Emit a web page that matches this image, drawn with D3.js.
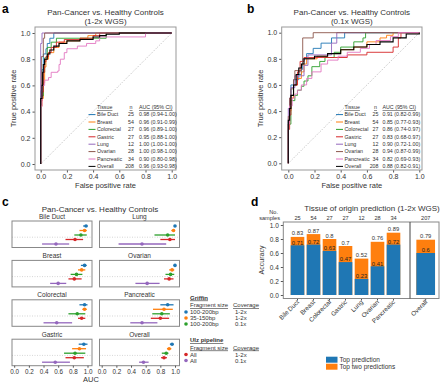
<!DOCTYPE html>
<html>
<head>
<meta charset="utf-8">
<script src="https://cdn.jsdelivr.net/npm/d3@7"></script>
<style>
  body { margin: 0; background: #fff; }
  text { font-family: "Liberation Sans", Arial, sans-serif; fill: #333; }
</style>
</head>
<body>
<div id="fig"></div>
<script>
// ---- data ----
const tissues = ["Bile Duct", "Breast", "Colorectal", "Gastric", "Lung", "Ovarian", "Pancreatic", "Overall"];
const tissueColors = ["#1f77b4", "#ff7f0e", "#2ca02c", "#d62728", "#9467bd", "#8c564b", "#e377c2", "#000000"];
const nRoc = [25, 54, 27, 27, 12, 28, 34, 208];
const aucA = ["0.98 (0.94-1.00)", "0.96 (0.91-0.99)", "0.96 (0.89-1.00)", "0.95 (0.88-1.00)",
              "1.00 (1.00-1.00)", "1.00 (0.98-1.00)", "0.90 (0.80-0.98)", "0.96 (0.93-0.98)"];
const aucB = ["0.91 (0.82-0.99)", "0.85 (0.77-0.93)", "0.86 (0.74-0.97)", "0.83 (0.68-0.97)",
              "0.90 (0.72-1.00)", "0.94 (0.87-0.99)", "0.82 (0.69-0.93)", "0.88 (0.82-0.91)"];

// ROC points [fpr, tpr], tpr jumps to the value at that fpr (order = tissues)
const rocA = [
  [[0,0],[0,0.56],[0.01,0.72],[0.02,0.84],[0.04,0.88],[0.05,0.92],[0.07,0.96],[0.1,1],[1,1]],
  [[0,0],[0,0.44],[0.01,0.5],[0.02,0.62],[0.03,0.74],[0.04,0.8],[0.06,0.85],[0.1,0.89],[0.14,0.93],[0.2,0.94],[0.3,0.96],[0.36,0.98],[0.42,1],[1,1]],
  [[0,0],[0,0.52],[0.02,0.7],[0.03,0.81],[0.05,0.89],[0.08,0.93],[0.12,0.96],[0.5,1],[1,1]],
  [[0,0],[0,0.48],[0.01,0.55],[0.02,0.7],[0.03,0.78],[0.04,0.82],[0.06,0.85],[0.08,0.89],[0.12,0.93],[0.18,0.95],[0.3,0.96],[0.4,0.98],[0.45,1],[1,1]],
  [[0,0],[0,0.92],[0.01,1],[1,1]],
  [[0,0],[0,0.45],[0.005,0.82],[0.02,0.96],[0.03,1],[1,1]],
  [[0,0],[0,0.44],[0.01,0.6],[0.03,0.64],[0.06,0.66],[0.08,0.7],[0.13,0.71],[0.14,0.76],[0.15,0.8],[0.18,0.85],[0.2,0.88],[0.28,0.9],[0.35,0.92],[0.42,0.94],[0.45,0.97],[0.8,1],[1,1]],
  [[0,0],[0,0.5],[0.01,0.6],[0.015,0.7],[0.02,0.76],[0.03,0.8],[0.05,0.84],[0.07,0.87],[0.1,0.9],[0.14,0.92],[0.2,0.94],[0.3,0.95],[0.4,0.97],[0.45,0.98],[0.5,0.99],[0.6,1],[1,1]]
];
const rocB = [
  [[0,0],[0,0.32],[0.01,0.48],[0.02,0.6],[0.04,0.64],[0.08,0.68],[0.1,0.72],[0.11,0.8],[0.14,0.84],[0.19,0.88],[0.25,0.92],[0.33,0.96],[0.43,1],[1,1]],
  [[0,0],[0,0.3],[0.01,0.4],[0.02,0.5],[0.04,0.6],[0.07,0.65],[0.1,0.7],[0.12,0.76],[0.14,0.8],[0.22,0.82],[0.3,0.84],[0.4,0.87],[0.5,0.89],[0.6,0.93],[0.7,0.96],[0.75,0.98],[0.8,1],[1,1]],
  [[0,0],[0,0.3],[0.02,0.48],[0.05,0.52],[0.07,0.56],[0.1,0.59],[0.12,0.63],[0.15,0.67],[0.18,0.74],[0.24,0.78],[0.28,0.81],[0.35,0.85],[0.4,0.89],[0.5,0.93],[0.57,0.96],[0.59,1],[1,1]],
  [[0,0],[0,0.26],[0.01,0.37],[0.02,0.52],[0.04,0.6],[0.07,0.7],[0.09,0.78],[0.12,0.81],[0.45,0.83],[0.6,0.85],[0.8,0.89],[0.84,0.96],[0.86,1],[1,1]],
  [[0,0],[0,0.42],[0.01,0.5],[0.02,0.58],[0.05,0.67],[0.12,0.75],[0.15,0.83],[0.33,0.92],[0.37,1],[1,1]],
  [[0,0],[0,0.36],[0.01,0.5],[0.02,0.57],[0.04,0.64],[0.05,0.71],[0.1,0.75],[0.11,0.96],[0.19,1],[1,1]],
  [[0,0],[0,0.3],[0.01,0.44],[0.03,0.5],[0.05,0.53],[0.07,0.56],[0.1,0.6],[0.14,0.65],[0.18,0.7],[0.25,0.76],[0.3,0.79],[0.38,0.82],[0.45,0.85],[0.55,0.88],[0.62,0.91],[0.67,0.94],[0.78,0.97],[0.84,1],[1,1]],
  [[0,0],[0,0.33],[0.01,0.42],[0.02,0.52],[0.04,0.6],[0.06,0.68],[0.08,0.73],[0.1,0.76],[0.12,0.8],[0.2,0.82],[0.3,0.84],[0.4,0.87],[0.5,0.89],[0.6,0.91],[0.7,0.93],[0.8,0.96],[0.9,0.99],[1,1]]
];

// forest plot (panel c): rows = methods, columns = tissues
const facetOrder = ["Bile Duct", "Lung", "Breast", "Ovarian", "Colorectal", "Pancreatic", "Gastric", "Overall"];
const methodColors = ["#1f77b4", "#ff7f0e", "#2ca02c", "#d62728", "#9467bd"];
const forestEst = [
  [0.98, 0.96, 0.96, 0.95, 1.00, 1.00, 0.90, 0.96],
  [0.96, 0.92, 0.96, 0.89, 0.98, 0.96, 0.85, 0.92],
  [0.91, 0.85, 0.86, 0.83, 0.90, 0.94, 0.82, 0.88],
  [0.83, 0.82, 0.92, 0.82, 0.93, 0.92, 0.80, 0.85],
  [0.57, 0.60, 0.58, 0.56, 0.55, 0.62, 0.55, 0.57]
];
const forestLo = [
  [0.94, 0.91, 0.89, 0.88, 1.00, 0.98, 0.80, 0.93],
  [0.89, 0.87, 0.93, 0.79, 0.95, 0.92, 0.70, 0.89],
  [0.82, 0.77, 0.74, 0.68, 0.72, 0.87, 0.69, 0.82],
  [0.70, 0.74, 0.87, 0.70, 0.80, 0.85, 0.67, 0.81],
  [0.38, 0.49, 0.40, 0.38, 0.23, 0.46, 0.39, 0.51]
];
const forestHi = [
  [1.00, 0.99, 1.00, 1.00, 1.00, 1.00, 0.98, 0.98],
  [0.99, 0.97, 0.99, 0.98, 1.00, 0.99, 0.97, 0.95],
  [0.99, 0.93, 0.97, 0.97, 1.00, 0.99, 0.93, 0.91],
  [0.94, 0.92, 0.97, 0.95, 1.00, 0.98, 0.92, 0.89],
  [0.75, 0.71, 0.79, 0.76, 0.88, 0.79, 0.76, 0.64]
];
const griffinRows = [["100-200bp", "1-2x"], ["35-150bp", "1-2x"], ["100-200bp", "0.1x"]];
const ulzRows = [["All", "1-2x"], ["All", "0.1x"]];

// panel d
const barTissues = ["Bile Duct", "Breast", "Colorectal", "Gastric", "Lung", "Ovarian", "Pancreatic"];
const barSamples = [25, 54, 27, 27, 12, 28, 34];
const topPred = [0.71, 0.72, 0.63, 0.47, 0.23, 0.41, 0.72];
const topTwo = [0.83, 0.87, 0.8, 0.7, 0.52, 0.76, 0.89];
const overallSamples = 207, overallTop = 0.6, overallTopTwo = 0.79;

const tick01 = [0, 0.2, 0.4, 0.6, 0.8, 1.0];
const fmt = d3.format(".1f");

const svg = d3.select("#fig").append("svg")
    .attr("width", 440).attr("height", 384);

function styleAxis(g, size) {
  g.select(".domain").remove();
  g.selectAll(".tick line").attr("stroke", "#555");
  g.selectAll(".tick text").attr("font-size", size).attr("fill", "#444");
}

function panelLabel(t, x, y) {
  svg.append("text").attr("x", x).attr("y", y).attr("font-size", 12)
      .attr("font-weight", "bold").style("fill", "#000").text(t);
}

// ---- ROC panels (a, b) ----
function rocPanel(cfg) {
  const [bx0, by0, bx1, by1] = cfg.box;
  const x = d3.scaleLinear().domain([0, 1]).range(cfg.xr);
  const y = d3.scaleLinear().domain([0, 1]).range(cfg.yr);
  const g = svg.append("g");
  const cx = (bx0 + bx1) / 2;

  g.append("text").attr("x", cx).attr("y", 15).attr("text-anchor", "middle")
      .attr("font-size", 8).text("Pan-Cancer vs. Healthy Controls");
  g.append("text").attr("x", cx).attr("y", 24).attr("text-anchor", "middle")
      .attr("font-size", 8).text(cfg.sub);

  g.append("g").attr("transform", `translate(0,${by1})`)
      .call(d3.axisBottom(x).tickValues(tick01).tickFormat(fmt).tickSize(2.5).tickPadding(2))
      .call(s => styleAxis(s, 7));
  g.append("g").attr("transform", `translate(${bx0},0)`)
      .call(d3.axisLeft(y).tickValues(tick01).tickFormat(fmt).tickSize(2.5).tickPadding(2))
      .call(s => styleAxis(s, 7));

  g.append("text").attr("x", cx).attr("y", 188).attr("text-anchor", "middle")
      .attr("font-size", 7.5).text("False positive rate");
  g.append("text").attr("transform", `translate(${bx0 - 19},${(by0 + by1) / 2}) rotate(-90)`)
      .attr("text-anchor", "middle").attr("font-size", 7.5).text("True positive rate");

  g.append("line").attr("x1", x(0)).attr("y1", y(0)).attr("x2", x(1)).attr("y2", y(1))
      .attr("stroke", "#aaa").attr("stroke-width", 0.8).attr("stroke-dasharray", "1,1.5");

  const line = d3.line().x(d => x(d[0])).y(d => y(d[1])).curve(d3.curveStepAfter);
  cfg.curves.forEach((c, i) => {
    g.append("path").datum(c).attr("d", line).attr("fill", "none")
        .attr("stroke", tissueColors[i]).attr("stroke-width", i === 7 ? 1.1 : 0.9);
  });

  g.append("rect").attr("x", bx0).attr("y", by0).attr("width", bx1 - bx0).attr("height", by1 - by0)
      .attr("fill", "none").attr("stroke", "#999");

  // legend
  const L = cfg.leg, fs = 5.3, step = 7.4;
  const lg = g.append("g").attr("font-size", fs);
  lg.append("text").attr("x", L.tx).attr("y", L.y0).style("text-decoration", "underline").text("Tissue");
  lg.append("text").attr("x", L.nx - 1.5).attr("y", L.y0).attr("text-anchor", "end")
      .style("text-decoration", "underline").text("n");
  lg.append("text").attr("x", L.ax).attr("y", L.y0).style("text-decoration", "underline").text("AUC (95% CI)");
  tissues.forEach((t, i) => {
    const yy = L.y0 + step * (i + 1);
    lg.append("line").attr("x1", L.lx).attr("x2", L.lx + 7).attr("y1", yy - 1.8).attr("y2", yy - 1.8)
        .attr("stroke", tissueColors[i]).attr("stroke-width", 1);
    lg.append("text").attr("x", L.tx).attr("y", yy).text(t);
    lg.append("text").attr("x", L.nx).attr("y", yy).attr("text-anchor", "end").text(nRoc[i]);
    lg.append("text").attr("x", L.ax).attr("y", yy).text(cfg.auc[i]);
  });
}

panelLabel("a", 2, 13);
rocPanel({
  box: [35, 27, 176, 170], xr: [40.7, 171.7], yr: [164, 33], sub: "(1-2x WGS)",
  curves: rocA, auc: aucA,
  leg: { lx: 88.5, tx: 97, nx: 134, ax: 139, y0: 109 }
});
panelLabel("b", 247, 13);
rocPanel({
  box: [281.7, 27, 422, 170], xr: [288.3, 419.3], yr: [163.3, 32.7], sub: "(0.1x WGS)",
  curves: rocB, auc: aucB,
  leg: { lx: 336, tx: 344.5, nx: 378.5, ax: 382.5, y0: 109 }
});

// ---- panel c: forest plots ----
panelLabel("c", 2, 206);
svg.append("text").attr("x", 100).attr("y", 212).attr("text-anchor", "middle")
    .attr("font-size", 8).text("Pan-Cancer vs. Healthy Controls");

facetOrder.forEach((t, k) => {
  const col = k % 2, row = Math.floor(k / 2);
  const x0 = col ? 99.5 : 12, y0 = 221 + row * 39.4, w = 80, h = 26.5;
  const ti = tissues.indexOf(t);
  const x = d3.scaleLinear().domain([0, 1]).range([x0 + 2.2, x0 + 75.5]);
  const y = d3.scalePoint().domain(d3.range(5)).range([y0 + 5, y0 + 23]);
  const g = svg.append("g");

  g.append("text").attr("x", x0 + w / 2).attr("y", y0 - 2.5).attr("text-anchor", "middle")
      .attr("font-size", 6.5).text(t);
  g.append("line").attr("x1", x0).attr("x2", x0 + w).attr("y1", y0 + 16.2).attr("y2", y0 + 16.2)
      .attr("stroke", "#bbb").attr("stroke-width", 0.6).attr("stroke-dasharray", "1,1.5");

  d3.range(5).forEach(m => {
    g.append("line").attr("x1", x(forestLo[m][ti])).attr("x2", x(forestHi[m][ti]))
        .attr("y1", y(m)).attr("y2", y(m)).attr("stroke", methodColors[m]).attr("stroke-width", 1.3);
    g.append("circle").attr("cx", x(forestEst[m][ti])).attr("cy", y(m)).attr("r", 1.8)
        .attr("fill", methodColors[m]);
  });

  g.append("rect").attr("x", x0).attr("y", y0).attr("width", w).attr("height", h)
      .attr("fill", "none").attr("stroke", "#888").attr("stroke-width", 1);

  if (row === 3) {
    g.append("g").attr("transform", `translate(0,${y0 + h})`)
        .call(d3.axisBottom(x).tickValues(tick01).tickFormat(fmt).tickSize(2).tickPadding(1.5))
        .call(s => styleAxis(s, 6.3));
  }
});
svg.append("text").attr("x", 91).attr("y", 382).attr("text-anchor", "middle")
    .attr("font-size", 7.5).text("AUC");

// legend for c
const cl = svg.append("g").attr("font-size", 6);
function legBlock(title, rows, colors, yTop) {
  cl.append("text").attr("x", 190).attr("y", yTop).attr("font-weight", "bold")
      .style("text-decoration", "underline").text(title);
  cl.append("text").attr("x", 190).attr("y", yTop + 7.5).style("text-decoration", "underline").text("Fragment size");
  cl.append("text").attr("x", 233).attr("y", yTop + 7.5).style("text-decoration", "underline").text("Coverage");
  rows.forEach((r, i) => {
    const yy = yTop + 14.5 + i * 6;
    cl.append("circle").attr("cx", 186).attr("cy", yy - 2).attr("r", 1.8).attr("fill", colors[i]);
    cl.append("text").attr("x", 190).attr("y", yy).text(r[0]);
    cl.append("text").attr("x", 235).attr("y", yy).text(r[1]);
  });
}
legBlock("Griffin", griffinRows, methodColors.slice(0, 3), 299.5);
legBlock("Ulz pipeline", ulzRows, methodColors.slice(3), 342);

// ---- panel d: tissue of origin bars ----
panelLabel("d", 251, 206);
svg.append("text").attr("x", 372).attr("y", 211).attr("text-anchor", "middle")
    .attr("font-size", 8).text("Tissue of origin prediction (1-2x WGS)");

const yd = d3.scaleLinear().domain([0, 1]).range([295, 225]);
const xd = d3.scaleBand().domain(barTissues).range([289.5, 401.5]).paddingInner(0.15).paddingOuter(0.075);
const xo = d3.scaleBand().domain(["Overall"]).range([410, 441.4]).paddingInner(0.15).paddingOuter(0.29);
const dTop = 222, dBot = 298.5;

const dg = svg.append("g");
dg.append("g").attr("transform", "translate(283.3,0)")
    .call(d3.axisLeft(yd).tickValues(tick01).tickFormat(fmt).tickSize(2.5).tickPadding(2))
    .call(s => styleAxis(s, 6.5));
dg.append("text").attr("transform", `translate(264,260) rotate(-90)`).attr("text-anchor", "middle")
    .attr("font-size", 7).text("Accuracy");

function drawBar(xc, bw, v1, v2, n, label) {
  dg.append("rect").attr("x", xc - bw / 2).attr("width", bw).attr("y", yd(v2)).attr("height", yd(0) - yd(v2))
      .attr("fill", "#ff7f0e");
  dg.append("rect").attr("x", xc - bw / 2).attr("width", bw).attr("y", yd(v1)).attr("height", yd(0) - yd(v1))
      .attr("fill", "#1f77b4");
  dg.append("text").attr("x", xc).attr("y", yd(v2) - 1.5).attr("text-anchor", "middle")
      .attr("font-size", 5.8).text(v2);
  dg.append("text").attr("x", xc).attr("y", yd(v1) - 0.8).attr("text-anchor", "middle")
      .attr("font-size", 5.8).style("fill", "#222").text(v1);
  dg.append("text").attr("x", xc).attr("y", 220).attr("text-anchor", "middle")
      .attr("font-size", 5.6).text(n);
  dg.append("line").attr("x1", xc).attr("x2", xc).attr("y1", dBot).attr("y2", dBot + 2)
      .attr("stroke", "#555");
  dg.append("text").attr("transform", `translate(${xc + 2},${dBot + 4}) rotate(-45)`)
      .attr("text-anchor", "end").attr("font-size", 6.3).text(label);
}
barTissues.forEach((t, i) => drawBar(xd(t) + xd.bandwidth() / 2, xd.bandwidth(), topPred[i], topTwo[i], barSamples[i], t));
drawBar(xo("Overall") + xo.bandwidth() / 2, xo.bandwidth(), overallTop, overallTopTwo, overallSamples, "Overall");

dg.append("rect").attr("x", 283.3).attr("y", dTop).attr("width", 439 - 283.3).attr("height", dBot - dTop)
    .attr("fill", "none").attr("stroke", "#888");
dg.append("line").attr("x1", 410).attr("x2", 410).attr("y1", dTop).attr("y2", dBot)
    .attr("stroke", "#444").attr("stroke-width", 1);
dg.append("text").attr("x", 278).attr("y", 214).attr("text-anchor", "end").attr("font-size", 5.6).text("No.");
dg.append("text").attr("x", 280).attr("y", 220).attr("text-anchor", "end").attr("font-size", 5.6).text("samples");

// legend d
const dl = svg.append("g").attr("font-size", 6.5);
[["Top prediction", "#1f77b4"], ["Top two predictions", "#ff7f0e"]].forEach((r, i) => {
  dl.append("rect").attr("x", 326).attr("y", 356.7 + i * 7).attr("width", 11.5).attr("height", 6)
      .attr("fill", r[1]);
  dl.append("text").attr("x", 339.5).attr("y", 362 + i * 7).text(r[0]);
});
</script>
</body>
</html>
